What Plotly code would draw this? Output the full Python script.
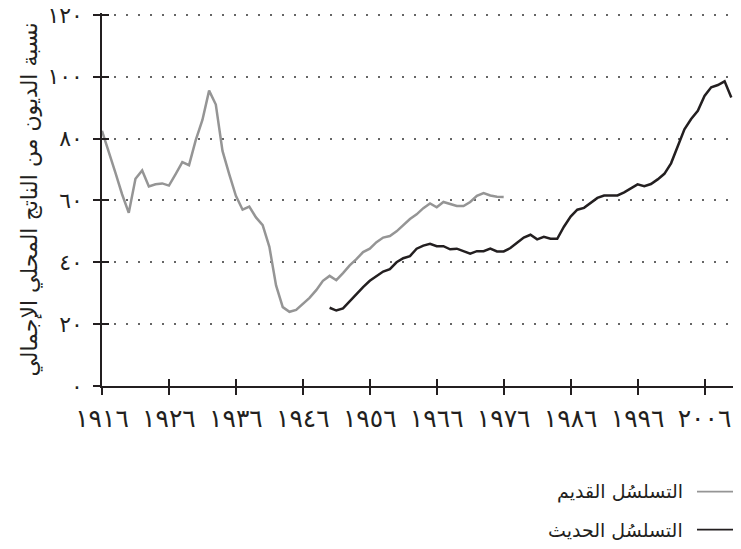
import plotly.graph_objects as go

# old series (grey) and new series (black), debt as % of GDP
old_years = list(range(1916, 1977))
old_values = [
    82.5, 76, 69, 62, 56, 67, 69.7, 64.5, 65.2, 65.5,
    64.8, 68.5, 72.4, 71.4, 79.5, 86, 95.5, 91, 76, 68.5,
    61.5, 57, 58, 54.5, 52, 45, 32.5, 25.5, 24, 24.6,
    26.5, 28.5, 31, 34, 35.6, 34.2, 36.5, 39, 41, 43.3,
    44.4, 46.5, 48, 48.5, 50, 52, 54, 55.5, 57.5, 59,
    57.8, 59.5, 58.8, 58.2, 58.2, 59.5, 61.5, 62.4, 61.6, 61.2,
    61.1,
]
new_years = list(range(1950, 2011))
new_values = [
    25.3, 24.4, 25.1, 27.5, 29.8, 32, 34, 35.5, 37, 37.8,
    40, 41.3, 42, 44.4, 45.4, 46, 45.2, 45.2, 44.2, 44.4,
    43.5, 42.8, 43.6, 43.6, 44.4, 43.5, 43.5, 44.6, 46.3, 48,
    48.9, 47.4, 48.2, 47.6, 47.6, 51.5, 54.8, 57, 57.6, 59.3,
    60.8, 61.6, 61.6, 61.6, 62.6, 64, 65.2, 64.6, 65.3, 66.8,
    68.6, 72, 77.5, 83, 86.3, 89, 93.8, 96.6, 97.3, 98.5,
    93.3,
]

series_names = ["التسلسُل القديم", "التسلسُل الحديث"]
y_title = "نسبة الديون من الناتج المحلي الإجمالي"

x_ticks = list(range(1916, 2007, 10))
y_ticks = list(range(0, 121, 20))

arabic_digits = str.maketrans("0123456789", "٠١٢٣٤٥٦٧٨٩")
x_ticktext = [str(v).translate(arabic_digits) for v in x_ticks]
y_ticktext = [str(v).translate(arabic_digits) for v in y_ticks]

grey = "#959595"
black = "#231f20"
font = "DejaVu Sans"

fig = go.Figure()
fig.add_trace(go.Scatter(x=old_years, y=old_values, mode="lines",
                         line=dict(color=grey, width=2.5), showlegend=False))
fig.add_trace(go.Scatter(x=new_years, y=new_values, mode="lines",
                         line=dict(color=black, width=2.5), showlegend=False))
# empty trace so the overlay axes (inner half of the crossing ticks) get drawn
fig.add_trace(go.Scatter(x=[None], y=[None], xaxis="x2", yaxis="y2",
                         showlegend=False, hoverinfo="skip"))

x_range = [1916, 2011.3]
y_range = [0, 120.6]

# the page body has an 8px margin, so the figure is a bit smaller than the window
fig.update_layout(
    width=733,
    height=541,
    margin=dict(l=94, r=1, t=5, b=163),
    plot_bgcolor="white",
    paper_bgcolor="white",
    font=dict(family=font, color=black, size=18),
    xaxis=dict(
        range=x_range, tickvals=x_ticks, ticktext=x_ticktext,
        ticks="outside", ticklen=7, tickwidth=1.5, tickcolor=black,
        showline=True, linecolor=black, linewidth=1.5,
        showgrid=False, zeroline=False, automargin=False,
        tickfont=dict(size=25), ticklabelstandoff=2,
        ticklabeloverflow="allow",
    ),
    yaxis=dict(
        range=y_range, tickvals=y_ticks, ticktext=y_ticktext,
        ticks="outside", ticklen=7, tickwidth=1.5, tickcolor=black,
        showline=True, linecolor=black, linewidth=1.5,
        showgrid=True, gridcolor="#666666", gridwidth=1.5, griddash="1.5px,10.5px",
        zeroline=False, automargin=False,
        tickfont=dict(size=22), ticklabelstandoff=6,
        ticklabeloverflow="allow",
        title=dict(text=y_title, font=dict(size=22), standoff=4),
    ),
    xaxis2=dict(
        range=x_range, tickvals=x_ticks, overlaying="x", anchor="y2",
        ticks="inside", ticklen=7, tickwidth=1.5, tickcolor=black,
        showticklabels=False, showline=False, showgrid=False, zeroline=False,
    ),
    yaxis2=dict(
        range=y_range, tickvals=y_ticks, overlaying="y", anchor="x2",
        ticks="inside", ticklen=7, tickwidth=1.5, tickcolor=black,
        showticklabels=False, showline=False, showgrid=False, zeroline=False,
    ),
)

# right-to-left legend: line sample on the right, label to its left
legend_rows = [(-0.283, grey), (-0.385, black)]
for name, (yp, color) in zip(series_names, legend_rows):
    fig.add_shape(type="line", xref="paper", yref="paper",
                  x0=0.9326, x1=0.9953, y0=yp, y1=yp,
                  line=dict(color=color, width=1.8))
    fig.add_annotation(text=name, xref="paper", yref="paper",
                       x=0.914, y=yp, xanchor="right", yanchor="middle",
                       showarrow=False, font=dict(size=19, color=black))

fig.write_html("out.html")
